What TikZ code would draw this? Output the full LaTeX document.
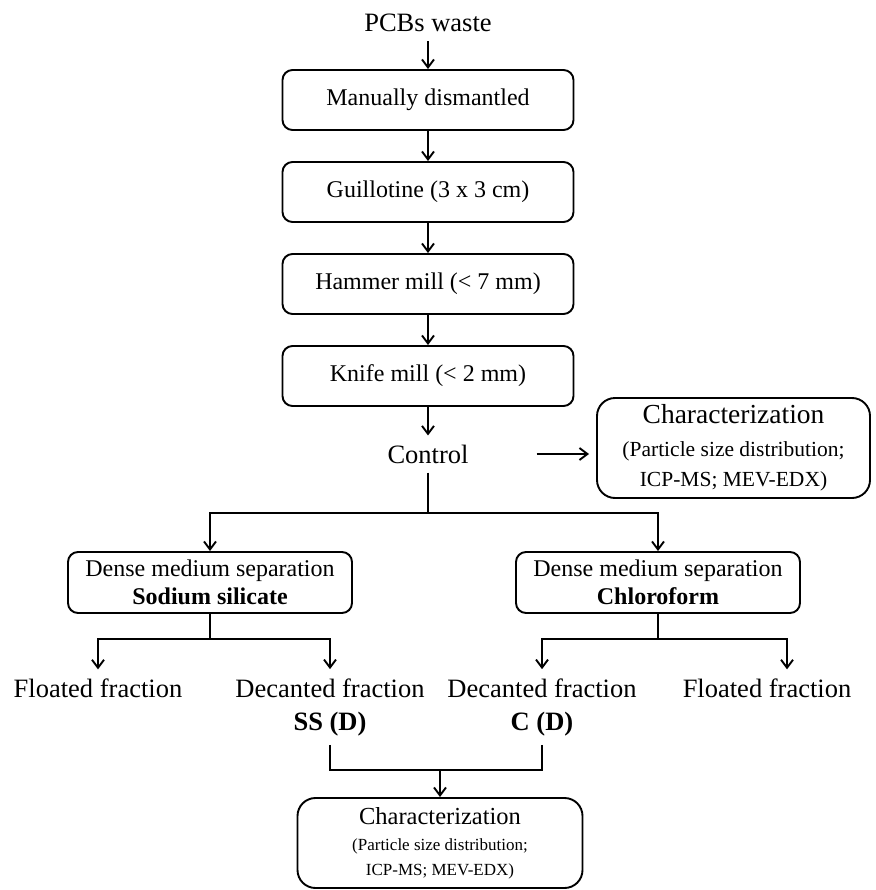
\documentclass[tikz,border=0pt]{standalone}
\usepackage{fontspec}
\setmainfont{Liberation Serif}
\usetikzlibrary{arrows.meta}
\tikzstyle{stepbox}=[draw,line width=1.9pt,rounded corners=10pt,minimum width=291pt,minimum height=60pt,inner sep=0pt,font=\fontsize{24}{28}\selectfont]
\tikzstyle{sepbox}=[draw,line width=1.9pt,rounded corners=10pt,minimum width=284pt,minimum height=61pt,inner sep=0pt,align=center,font=\fontsize{24}{28}\selectfont]
\tikzstyle{charbox}=[draw,line width=1.9pt,rounded corners=18pt,inner sep=0pt,align=center]
\tikzstyle{plaintext}=[inner sep=9pt,align=center,font=\fontsize{26.5}{33}\selectfont]
\tikzstyle{edge} = [draw,line width=1.9pt,-{Straight Barb[length=8pt,width=12pt]}]
\tikzstyle{link} = [draw,line width=1.9pt,-]

\begin{document}
\begin{tikzpicture}[x=1pt,y=-1pt]
    \useasboundingbox (0,0) rectangle (875,890);
    % First we draw the crushing steps
    \node[plaintext] (pcb) at (428,23) {PCBs waste};
    \foreach \pos/\name/\txt in {{(428,100)/dism/Manually dismantled}, {(428,192)/guil/Guillotine (3 x 3 cm)}, {(428,284)/hamm/Hammer mill (< 7 mm)}, {(428,376)/knif/Knife mill (< 2 mm)}}
        \node[stepbox] (\name) at \pos {\txt};
    \node[plaintext] (control) at (428,454) {Control};
    \node[charbox,minimum width=273pt,minimum height=100pt,font=\fontsize{21.5}{30}\selectfont] (charA) at (733.5,448)
        {{\fontsize{27.5}{30}\selectfont Characterization}\\[3pt] (Particle size distribution;\\ ICP-MS; MEV-EDX)};
    % Separation and fractions
    \node[sepbox] (dmsL) at (210,582.5) {Dense medium separation\\ \textbf{Sodium silicate}};
    \node[sepbox] (dmsR) at (658,582.5) {Dense medium separation\\ \textbf{Chloroform}};
    \node[plaintext] (floatL) at (98,688) {Floated fraction};
    \node[plaintext] (decL) at (330,707) {Decanted fraction\\ \textbf{SS (D)}};
    \node[plaintext] (decR) at (542,707) {Decanted fraction\\ \textbf{C (D)}};
    \node[plaintext] (floatR) at (767,688) {Floated fraction};
    \node[charbox,minimum width=285pt,minimum height=90pt,font=\fontsize{17}{25}\selectfont] (charB) at (440,843)
        {{\fontsize{24.5}{25}\selectfont Characterization}\\[1pt] (Particle size distribution;\\ ICP-MS; MEV-EDX)};
    \coordinate (split) at (428,513);
    \coordinate (splitL) at (210,639);
    \coordinate (splitR) at (658,639);
    \coordinate (merge) at (440,770);
    % Connect the steps with arrows
    \foreach \source/ \dest in {pcb/dism, dism/guil, guil/hamm, hamm/knif, knif/control}
        \path[edge] (\source) -- (\dest);
    \path[edge,shorten <=59pt,shorten >=7pt] (control) -- (control -| charA.west);
    \path[link] (control) -- (split);
    \path[edge] (split) -| (dmsL);
    \path[edge] (split) -| (dmsR);
    \path[link] (dmsL) -- (splitL);
    \path[link] (dmsR) -- (splitR);
    \path[edge] (splitL) -| (floatL);
    \path[edge] (splitL) -| (decL);
    \path[edge] (splitR) -| (decR);
    \path[edge] (splitR) -| ([xshift=20pt]floatR.north);
    \path[link] (decL) |- (merge);
    \path[link] (decR) |- (merge);
    \path[edge] (merge) -- (charB);
\end{tikzpicture}
\end{document}
